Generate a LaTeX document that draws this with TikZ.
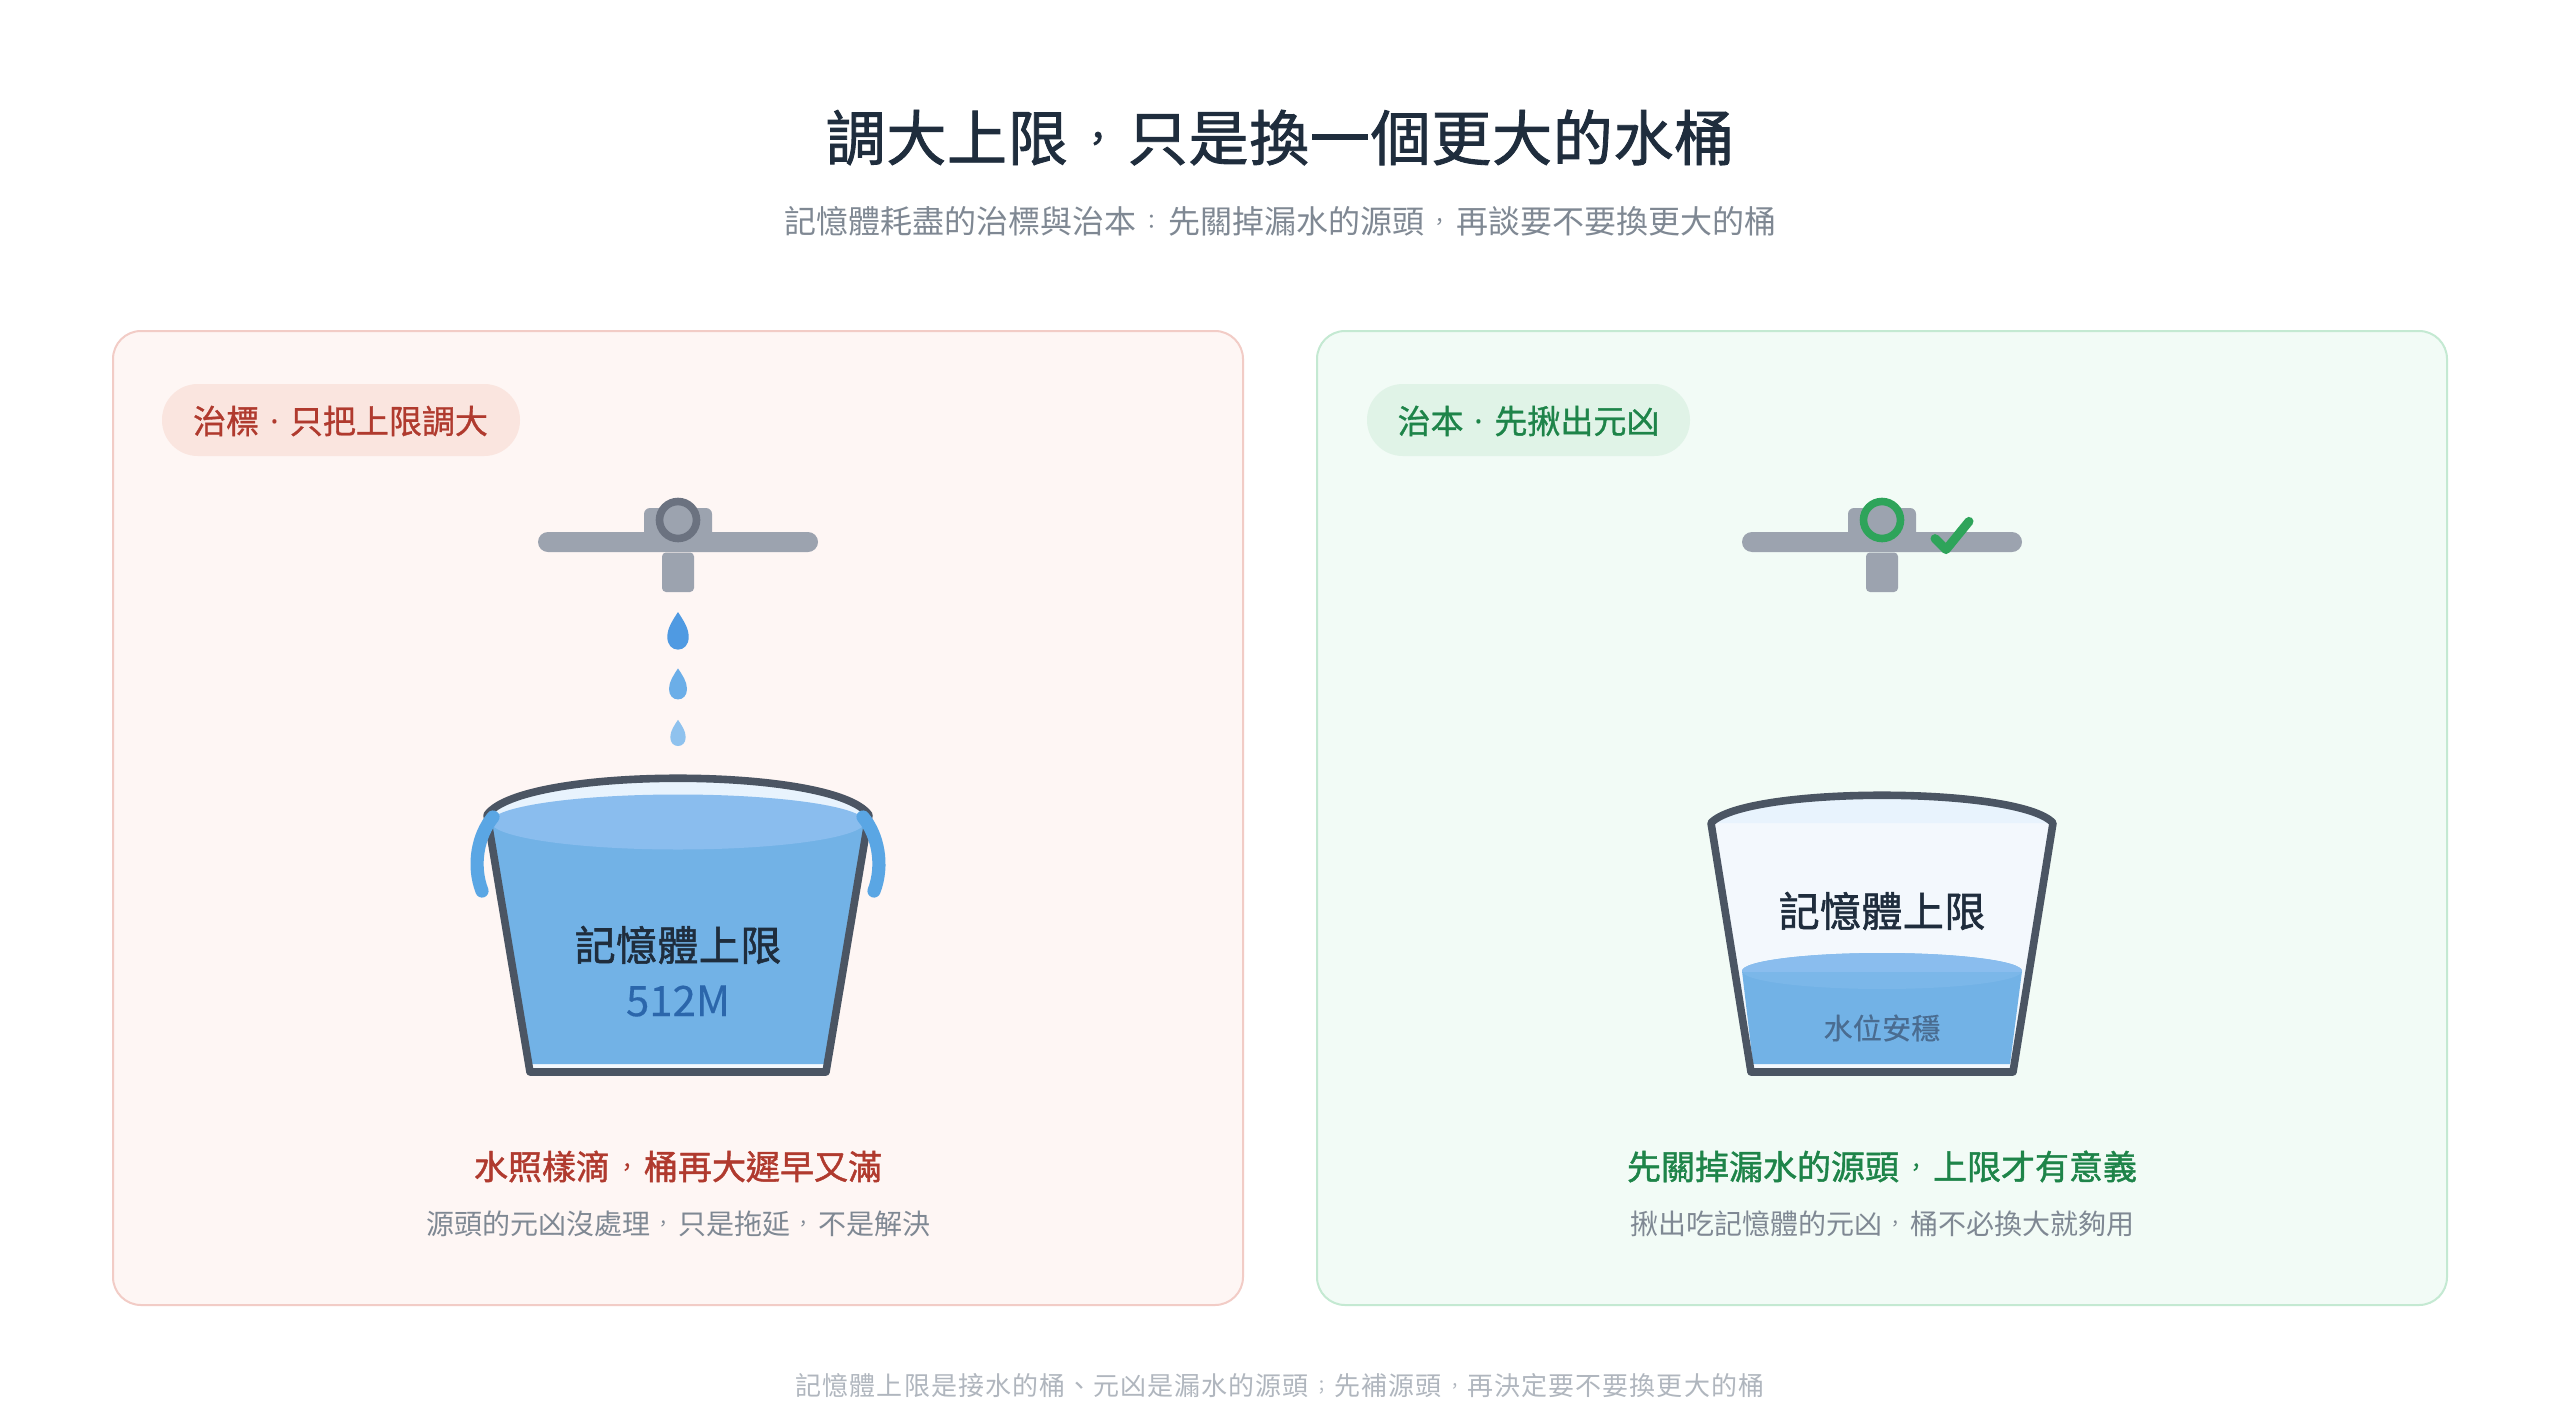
\documentclass[tikz,border=0pt]{standalone}
\usepackage{fontspec}
\newfontfamily\cjkreg{Noto Sans CJK TC}[BoldFont={Noto Sans CJK TC Bold}]
\newfontfamily\dotfont{Noto Sans}
\definecolor{pageink}{HTML}{1F2D3D}
\definecolor{subgrey}{HTML}{7F8893}
\definecolor{footgrey}{HTML}{B0B6BE}
\definecolor{redpanel}{HTML}{FEF6F4}
\definecolor{redline}{HTML}{F2CCC6}
\definecolor{redpill}{HTML}{FAE5DF}
\definecolor{redtext}{HTML}{B03A2E}
\definecolor{greenpanel}{HTML}{F2FBF6}
\definecolor{greenline}{HTML}{C4E9D2}
\definecolor{greenpill}{HTML}{E0F3E7}
\definecolor{greentext}{HTML}{1E8449}
\definecolor{tapgrey}{HTML}{9CA3AF}
\definecolor{ringgrey}{HTML}{6B7280}
\definecolor{okgreen}{HTML}{2EA45A}
\definecolor{rimdark}{HTML}{4B5563}
\definecolor{water}{HTML}{72B2E6}
\definecolor{watertop}{HTML}{8ABDEE}
\definecolor{watersoft}{HTML}{7BB7E9}
\definecolor{handleblue}{HTML}{5AA6E4}
\definecolor{innerpale}{HTML}{F3F8FD}
\definecolor{innertop}{HTML}{E8F3FD}
\definecolor{dropone}{HTML}{4F9AE2}
\definecolor{droptwo}{HTML}{6BAEE8}
\definecolor{dropthree}{HTML}{8FC2EE}
\definecolor{limitblue}{HTML}{2B66AB}
\definecolor{levelink}{HTML}{4A6C90}
\newcommand{\fsz}[1]{\fontsize{\dimexpr #1pt/2\relax}{\dimexpr #1pt/2\relax}\selectfont}
\newcommand{\mediumface}[1]{\addfontfeature{FakeBold=#1}}
\newcommand{\tagdot}{\hspace{5.5pt}{\dotfont ·}\hspace{5.5pt}}
% full-width punctuation, drawn small in the middle of its em box
\newcommand{\smallpunct}[1]{\makebox[1em][c]{\raisebox{0.13em}{\scalebox{0.65}{\char"#1\relax}}}}
\newcommand{\fwcomma}{\smallpunct{FF0C}}
\newcommand{\fwcolon}{\smallpunct{FF1A}}
\newcommand{\fwsemi}{\smallpunct{FF1B}}
\tikzset{
  x=0.5pt,y=-0.5pt,
  label/.style={inner sep=0pt,outer sep=0pt,font=\cjkreg},
  panel/.style={rounded corners=14pt,line width=1pt},
  tapfill/.style={fill=tapgrey,draw=none},
  ring/.style={line width=3.8pt,fill=tapgrey},
  wall/.style={draw=rimdark,line width=3.8pt,line join=round,line cap=round},
  grip/.style={draw=handleblue,line width=6.6pt,line cap=round},
}
% a falling drop: centre x, top y, bottom y, half width, colour
\newcommand{\waterdrop}[5]{%
  \fill[#5] (#1,#2)
    .. controls ({#1+0.45*#4},{#2+0.2*(#3-#2)}) and ({#1+#4},{#2+0.42*(#3-#2)}) .. ({#1+#4},{#2+0.66*(#3-#2)})
    .. controls ({#1+#4},{#2+0.88*(#3-#2)}) and ({#1+0.55*#4},#3) .. (#1,#3)
    .. controls ({#1-0.55*#4},#3) and ({#1-#4},{#2+0.88*(#3-#2)}) .. ({#1-#4},{#2+0.66*(#3-#2)})
    .. controls ({#1-#4},{#2+0.42*(#3-#2)}) and ({#1-0.45*#4},{#2+0.2*(#3-#2)}) .. cycle;}
% the tap: centre x and colour of the ring
\newcommand{\tapat}[2]{%
  \fill[tapfill,rounded corners=5pt] ({#1-140},532) rectangle ({#1+140},552);
  \fill[tapfill,rounded corners=3pt] ({#1-34},508) rectangle ({#1+34},540);
  \fill[tapfill,rounded corners=2pt] ({#1-16},552.5) rectangle ({#1+16},592);
  \draw[ring,draw=#2] (#1,520) circle [radius=18.5];}
\begin{document}
\begin{tikzpicture}
\useasboundingbox (0,0) rectangle (2560,1424);
\fill[white] (0,0) rectangle (2560,1424);

\node[label,text=pageink] (title) at (1280,137.5) {\fsz{60}\mediumface{1.4}\addfontfeature{LetterSpace=1.2}調大上限\fwcomma 只是換一個更大的水桶};
\node[label,text=subgrey] (subtitle) at (1280,221) {\fsz{32}記憶體耗盡的治標與治本\fwcolon 先關掉漏水的源頭\fwcomma 再談要不要換更大的桶};

% left panel
\draw[panel,fill=redpanel,draw=redline] (113,331) rectangle (1243,1305);
\fill[redpill,rounded corners=17.9pt] (162,384) rectangle (520,456);
\node[label,text=redtext] (ltag) at (340.5,421) {\fsz{33}\mediumface{1}治標\tagdot 只把上限調大};
\tapat{678}{ringgrey}
\waterdrop{678}{612}{649.6}{10.7}{dropone}
\waterdrop{678}{668.4}{699.4}{9}{droptwo}
\waterdrop{678}{719.8}{746}{7.7}{dropthree}
% left bucket
\fill[innerpale] (487,815) .. controls (521,766) and (835,766) .. (869,815) -- (826,1072) -- (530,1072) -- cycle;
\fill[innertop] (487,815) .. controls (521,766) and (835,766) .. (869,815) -- (869,825) -- (487,825) -- cycle;
\fill[water] (491,822) -- (865,822) -- (825,1064) -- (531,1064) -- cycle;
\fill[watertop] (678,822) ellipse [x radius=187,y radius=27.5];
\draw[wall] (487,815) .. controls (521,766) and (835,766) .. (869,815) -- (826,1072) -- (530,1072) -- cycle;
\draw[grip] (493,817) .. controls (478,835) and (472,865) .. (482,891);
\draw[grip] (863,817) .. controls (878,835) and (884,865) .. (874,891);
\node[label,text=pageink] (lcap) at (678,945) {\fsz{41}\mediumface{1.4}\addfontfeature{LetterSpace=1}記憶體上限};
\node[label,text=limitblue] (lsize) at (678,1001) {\fsz{42}\mediumface{0.4}512M};
\node[label,text=redtext] (lhead) at (678,1166.5) {\fsz{34}\mediumface{1.3}水照樣滴\fwcomma 桶再大遲早又滿};
\node[label,text=subgrey] (lnote) at (678,1223.5) {\fsz{28}源頭的元凶沒處理\fwcomma 只是拖延\fwcomma 不是解決};

% right panel
\draw[panel,fill=greenpanel,draw=greenline] (1317,331) rectangle (2447,1305);
\fill[greenpill,rounded corners=17.9pt] (1367,384) rectangle (1690,456);
\node[label,text=greentext] (rtag) at (1528.5,421) {\fsz{33}\mediumface{1}治本\tagdot 先揪出元凶};
\tapat{1882}{okgreen}
\draw[draw=okgreen,line width=4.5pt,line cap=round,line join=round] (1935,538.6) -- (1946,549.6) -- (1969,521.4);
% right bucket
\fill[innerpale] (1711,823) .. controls (1745,786) and (2019,786) .. (2053,823) -- (2013,1072) -- (1751,1072) -- cycle;
\fill[innertop] (1711,823) .. controls (1745,786) and (2019,786) .. (2053,823) -- cycle;
\fill[water] (1742,971) -- (2022,971) -- (2010,1064) -- (1753,1064) -- cycle;
\fill[watersoft] (1882,971) ellipse [x radius=140,y radius=18];
\begin{scope}
  \clip (1742,950) rectangle (2022,971);
  \fill[watertop] (1882,971) ellipse [x radius=140,y radius=18];
\end{scope}
\draw[wall] (1711,823) .. controls (1745,786) and (2019,786) .. (2053,823) -- (2013,1072) -- (1751,1072) -- cycle;
\node[label,text=pageink] (rcap) at (1882,911) {\fsz{41}\mediumface{1.4}\addfontfeature{LetterSpace=1}記憶體上限};
\node[label,text=levelink] (rlevel) at (1882,1028) {\fsz{29}\mediumface{0.4}\addfontfeature{LetterSpace=1}水位安穩};
\node[label,text=greentext] (rhead) at (1882,1166.5) {\fsz{34}\mediumface{1.3}先關掉漏水的源頭\fwcomma 上限才有意義};
\node[label,text=subgrey] (rnote) at (1882,1223.5) {\fsz{28}揪出吃記憶體的元凶\fwcomma 桶不必換大就夠用};

\node[label,text=footgrey] (foot) at (1280,1386) {\fsz{26}\addfontfeature{LetterSpace=4}記憶體上限是接水的桶、元凶是漏水的源頭\fwsemi 先補源頭\fwcomma 再決定要不要換更大的桶};
\end{tikzpicture}
\end{document}
